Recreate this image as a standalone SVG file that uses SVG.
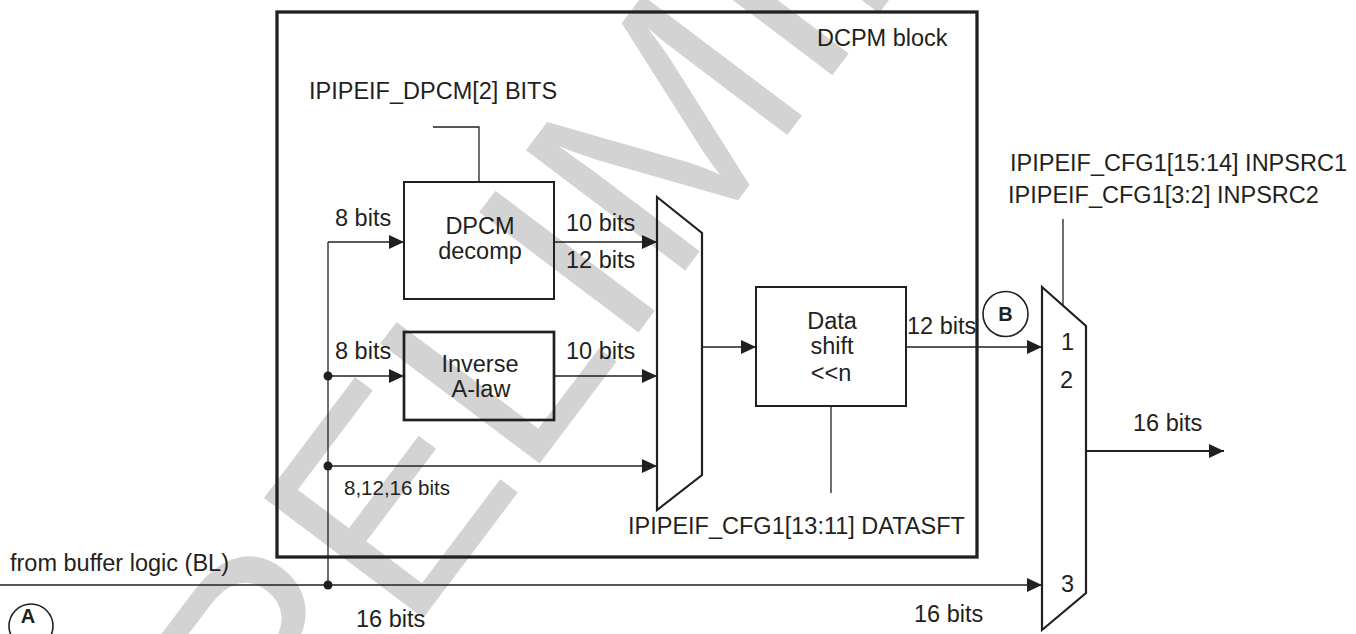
<svg xmlns="http://www.w3.org/2000/svg" width="1356" height="634" viewBox="0 0 1356 634">
<defs>
<marker id="ah" markerUnits="userSpaceOnUse" markerWidth="16" markerHeight="14" refX="15" refY="7" orient="auto"><path d="M0,0 L15,7 L0,14 z" fill="#231f20"/></marker>
<style>
text{font-family:"Liberation Sans",Arial,Helvetica,sans-serif;fill:#231f20;font-size:23.5px}
.c{text-anchor:middle}
.s{font-size:20.5px}
.b{font-weight:bold;font-size:20px;text-anchor:middle}
.wm{fill:#d3d3d3;font-size:290px}
.ln{fill:none;stroke:#231f20;stroke-width:1.3}
.ar{fill:none;stroke:#231f20;stroke-width:1.3;marker-end:url(#ah)}
.box{fill:none;stroke:#231f20;stroke-width:2}
.dot{fill:#231f20}
</style>
</defs>
<rect width="1356" height="634" fill="#ffffff"/>
<text class="wm" transform="translate(166.5,958.8) rotate(-53)">PRELIMINARY</text>

<g id="dcpm-block">
<rect x="277" y="12" width="700" height="545" fill="none" stroke="#231f20" stroke-width="3.3"/>
<text x="817" y="46">DCPM block</text>
</g>
<g id="dpcm-ctrl"><text x="309" y="99">IPIPEIF_DPCM[2] BITS</text></g>
<g id="dpcm-decomp">
<rect class="box" x="404" y="182" width="150" height="117"/>
<text class="c" x="480" y="234">DPCM</text>
<text class="c" x="480" y="259">decomp</text>
</g>
<g id="inverse-alaw">
<rect x="404" y="332" width="150" height="88" fill="none" stroke="#231f20" stroke-width="2.7"/>
<text class="c" x="480" y="372">Inverse</text>
<text class="c" x="481" y="397">A-law</text>
</g>
<g id="mux1"><polygon points="657,197 702,233 702,475 657,510" fill="none" stroke="#231f20" stroke-width="2.2"/></g>
<g id="data-shift">
<rect class="box" x="756" y="287" width="150" height="119"/>
<text class="c" x="832" y="329">Data</text>
<text class="c" x="832" y="354">shift</text>
<text class="c" x="831" y="381">&lt;&lt;n</text>
</g>
<g id="datasft-ctrl"><text x="628" y="534">IPIPEIF_CFG1[13:11] DATASFT</text></g>
<g id="mux2">
<polygon points="1042,287 1086,326 1086,593 1042,630" fill="none" stroke="#231f20" stroke-width="2.2"/>
<text x="1061" y="350">1</text>
<text x="1060" y="388">2</text>
<text x="1061" y="592">3</text>
</g>
<g id="inpsrc-ctrl">
<text x="1010" y="171">IPIPEIF_CFG1[15:14] INPSRC1</text>
<text x="1008" y="203">IPIPEIF_CFG1[3:2] INPSRC2</text>
</g>
<g id="marker-a">
<circle cx="31" cy="626" r="22" fill="none" stroke="#231f20" stroke-width="1.6"/>
<text class="b" x="28" y="623">A</text>
</g>
<g id="marker-b">
<circle cx="1005.5" cy="314" r="22.5" fill="none" stroke="#231f20" stroke-width="1.6"/>
<text class="b" x="1005.5" y="321">B</text>
</g>
<g id="source-label"><text x="10" y="571">from buffer logic (BL)</text></g>

<g id="connectors">
<polyline class="ln" points="433,127 479,127 479,182"/>
<line class="ln" x1="831" y1="406" x2="831" y2="493"/>
<line class="ln" x1="1063" y1="219" x2="1063" y2="306"/>
<line class="ln" x1="328" y1="242" x2="328" y2="584"/>
<line class="ar" x1="328" y1="242" x2="404" y2="242"/>
<line class="ar" x1="554" y1="242" x2="657" y2="242"/>
<line class="ar" x1="328" y1="376" x2="404" y2="376"/>
<line class="ar" x1="554" y1="376" x2="657" y2="376"/>
<line class="ar" x1="328" y1="466" x2="657" y2="466"/>
<line class="ar" x1="702" y1="347" x2="756" y2="347"/>
<line class="ar" x1="906" y1="347" x2="1042" y2="347"/>
<line class="ar" x1="0" y1="585" x2="1042" y2="585"/>
<line x1="1086" y1="451" x2="1224" y2="451" stroke="#231f20" stroke-width="2" marker-end="url(#ah)"/>
<circle class="dot" cx="328" cy="376" r="4.5"/>
<circle class="dot" cx="328" cy="466" r="4.5"/>
<circle class="dot" cx="328" cy="585" r="4.5"/>
<text x="335" y="226">8 bits</text>
<text x="566" y="231">10 bits</text>
<text x="566" y="268">12 bits</text>
<text x="335" y="359">8 bits</text>
<text x="566" y="359">10 bits</text>
<text class="s" x="344" y="495">8,12,16 bits</text>
<text x="907" y="334">12 bits</text>
<text x="1133" y="431">16 bits</text>
<text x="914" y="622">16 bits</text>
<text x="356" y="627">16 bits</text>
</g>
</svg>
